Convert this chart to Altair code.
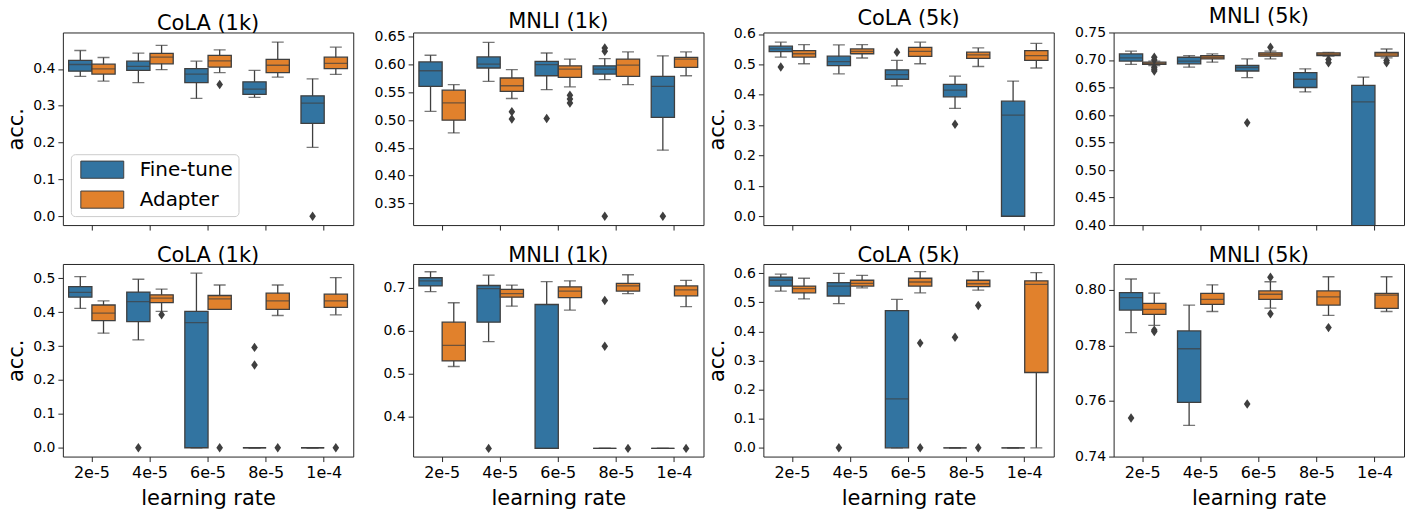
import altair as alt
import pandas as pd

FONT = "DejaVu Sans"
GRAY = "#3f3f3f"
FRAME = "#262626"

LRS = ["2e-5", "4e-5", "6e-5", "8e-5", "1e-4"]
SERIES = ["Fine-tune", "Adapter"]
COLORS = ["#3274a1", "#e1812c"]
TITLES = ["CoLA (1k)", "MNLI (1k)", "CoLA (5k)", "MNLI (5k)",
          "CoLA (1k)", "MNLI (1k)", "CoLA (5k)", "MNLI (5k)"]

# box statistics per learning rate: [lower whisker, q1, median, q3, upper whisker]
# ---- top row ----
P1_FT = [[0.380, 0.394, 0.412, 0.423, 0.450], [0.363, 0.396, 0.407, 0.421, 0.443],
         [0.320, 0.363, 0.386, 0.401, 0.421], [0.323, 0.331, 0.345, 0.365, 0.396],
         [0.187, 0.252, 0.307, 0.327, 0.373]]
P1_AD = [[0.367, 0.386, 0.400, 0.413, 0.431], [0.398, 0.414, 0.432, 0.442, 0.464],
         [0.390, 0.405, 0.422, 0.437, 0.452], [0.378, 0.390, 0.410, 0.426, 0.473],
         [0.385, 0.401, 0.415, 0.432, 0.459]]
P1_FT_OUT = [[], [], [], [], [0.0]]
P1_AD_OUT = [[], [], [0.358], [], []]

P2_FT = [[0.516, 0.561, 0.589, 0.605, 0.617], [0.570, 0.594, 0.601, 0.614, 0.640],
         [0.555, 0.580, 0.600, 0.606, 0.621], [0.573, 0.583, 0.592, 0.598, 0.611],
         [0.446, 0.505, 0.561, 0.579, 0.616]]
P2_AD = [[0.477, 0.500, 0.531, 0.554, 0.564], [0.539, 0.552, 0.562, 0.576, 0.591],
         [0.560, 0.577, 0.592, 0.598, 0.610], [0.564, 0.579, 0.599, 0.610, 0.623],
         [0.580, 0.595, 0.610, 0.613, 0.623]]
P2_FT_OUT = [[], [], [0.503], [0.630, 0.624, 0.327], [0.327]]
P2_AD_OUT = [[], [0.515, 0.502], [0.545, 0.538, 0.531], [], []]

P3_FT = [[0.524, 0.542, 0.551, 0.560, 0.573], [0.469, 0.496, 0.509, 0.527, 0.564],
         [0.429, 0.451, 0.466, 0.482, 0.513], [0.355, 0.393, 0.415, 0.434, 0.461],
         [0.0, 0.0, 0.333, 0.379, 0.445]]
P3_AD = [[0.502, 0.524, 0.535, 0.545, 0.565], [0.521, 0.535, 0.543, 0.551, 0.565],
         [0.502, 0.526, 0.543, 0.556, 0.573], [0.493, 0.520, 0.531, 0.540, 0.554],
         [0.488, 0.513, 0.529, 0.545, 0.569]]
P3_FT_OUT = [[0.491], [], [0.540], [0.303], []]
P3_AD_OUT = [[], [], [], [], []]

P4_FT = [[0.692, 0.698, 0.704, 0.711, 0.716], [0.687, 0.693, 0.698, 0.705, 0.708],
         [0.668, 0.680, 0.686, 0.690, 0.702], [0.642, 0.650, 0.665, 0.677, 0.684],
         [0.330, 0.330, 0.624, 0.654, 0.669]]
P4_AD = [[0.690, 0.692, 0.694, 0.696, 0.698], [0.696, 0.702, 0.705, 0.708, 0.711],
         [0.702, 0.707, 0.710, 0.713, 0.716], [0.707, 0.708, 0.710, 0.713, 0.714],
         [0.704, 0.707, 0.711, 0.714, 0.720]]
P4_FT_OUT = [[], [], [0.586], [], []]
P4_AD_OUT = [[0.705, 0.700, 0.687, 0.683, 0.680], [], [0.723], [0.701, 0.695], [0.699, 0.695]]

# ---- bottom row ----
P5_FT = [[0.411, 0.444, 0.458, 0.475, 0.505], [0.318, 0.372, 0.431, 0.459, 0.497],
         [0.0, 0.0, 0.369, 0.402, 0.515], [0.0, 0.0, 0.0, 0.0, 0.0],
         [0.0, 0.0, 0.0, 0.0, 0.0]]
P5_AD = [[0.338, 0.375, 0.397, 0.421, 0.433], [0.402, 0.428, 0.441, 0.451, 0.468],
         [0.408, 0.408, 0.439, 0.449, 0.480], [0.390, 0.408, 0.433, 0.456, 0.480],
         [0.392, 0.414, 0.433, 0.453, 0.502]]
P5_FT_OUT = [[], [0.0], [], [0.296, 0.244], []]
P5_AD_OUT = [[], [0.392], [0.0], [0.0], [0.0]]

P6_FT = [[0.691, 0.704, 0.716, 0.723, 0.737], [0.575, 0.620, 0.698, 0.705, 0.729],
         [0.327, 0.327, 0.327, 0.661, 0.714], [0.327, 0.327, 0.327, 0.327, 0.327],
         [0.327, 0.327, 0.327, 0.327, 0.327]]
P6_AD = [[0.517, 0.530, 0.566, 0.620, 0.665], [0.657, 0.678, 0.686, 0.696, 0.706],
         [0.648, 0.677, 0.692, 0.702, 0.716], [0.686, 0.692, 0.704, 0.710, 0.730],
         [0.656, 0.681, 0.695, 0.704, 0.717]]
P6_FT_OUT = [[], [0.327], [], [0.670, 0.564], []]
P6_AD_OUT = [[], [], [], [0.327], [0.327]]

P7_FT = [[0.539, 0.556, 0.576, 0.587, 0.597], [0.496, 0.522, 0.556, 0.568, 0.600],
         [0.0, 0.0, 0.168, 0.472, 0.510], [0.0, 0.0, 0.0, 0.0, 0.0],
         [0.0, 0.0, 0.0, 0.0, 0.0]]
P7_AD = [[0.512, 0.533, 0.547, 0.556, 0.583], [0.550, 0.556, 0.565, 0.576, 0.593],
         [0.533, 0.556, 0.570, 0.583, 0.606], [0.542, 0.554, 0.564, 0.576, 0.606],
         [0.0, 0.259, 0.562, 0.574, 0.602]]
P7_FT_OUT = [[], [0.0], [], [0.380], []]
P7_AD_OUT = [[], [], [0.360, 0.0], [0.489, 0.0], []]

P8_FT = [[0.7846, 0.7927, 0.7972, 0.7990, 0.8039], [0.7512, 0.7595, 0.7788, 0.7852, 0.7945],
         [0.330, 0.330, 0.330, 0.330, 0.330], [0.330, 0.330, 0.330, 0.330, 0.330],
         [0.330, 0.330, 0.330, 0.330, 0.330]]
P8_AD = [[0.7872, 0.7912, 0.7930, 0.7951, 0.7988], [0.7922, 0.7948, 0.7966, 0.7987, 0.8018],
         [0.7934, 0.7966, 0.7984, 0.7996, 0.8029], [0.7908, 0.7945, 0.7975, 0.7996, 0.8047],
         [0.7922, 0.7933, 0.7981, 0.7987, 0.8047]]
P8_FT_OUT = [[0.7539], [], [0.7589], [], []]
P8_AD_OUT = [[0.7855, 0.7850], [], [0.8045, 0.7914], [0.7864], []]

# y-axis ranges and tick values
DOMAINS = [[-0.024, 0.499], [0.311, 0.658], [-0.029, 0.605], [0.40, 0.75],
           [-0.026, 0.542], [0.308, 0.755], [-0.030, 0.632], [0.74, 0.8093]]
YTICKS = [[0.0, 0.1, 0.2, 0.3, 0.4],
          [0.35, 0.40, 0.45, 0.50, 0.55, 0.60, 0.65],
          [0.0, 0.1, 0.2, 0.3, 0.4, 0.5, 0.6],
          [0.40, 0.45, 0.50, 0.55, 0.60, 0.65, 0.70, 0.75],
          [0.0, 0.1, 0.2, 0.3, 0.4, 0.5],
          [0.4, 0.5, 0.6, 0.7],
          [0.0, 0.1, 0.2, 0.3, 0.4, 0.5, 0.6],
          [0.74, 0.76, 0.78, 0.80]]
YFMT = [".1f", ".2f", ".1f", ".2f", ".1f", ".1f", ".1f", ".2f"]

PANELS = [
    (P1_FT, P1_AD, P1_FT_OUT, P1_AD_OUT),
    (P2_FT, P2_AD, P2_FT_OUT, P2_AD_OUT),
    (P3_FT, P3_AD, P3_FT_OUT, P3_AD_OUT),
    (P4_FT, P4_AD, P4_FT_OUT, P4_AD_OUT),
    (P5_FT, P5_AD, P5_FT_OUT, P5_AD_OUT),
    (P6_FT, P6_AD, P6_FT_OUT, P6_AD_OUT),
    (P7_FT, P7_AD, P7_FT_OUT, P7_AD_OUT),
    (P8_FT, P8_AD, P8_FT_OUT, P8_AD_OUT),
]

W, H = 291, 193
BOXW = W / len(LRS) * 0.4
LW = 1.3


def frames(ft, ad, ft_out, ad_out):
    rows, outs = [], []
    for s, stats in zip(SERIES, (ft, ad)):
        for lr, (lo, q1, med, q3, hi) in zip(LRS, stats):
            rows.append(dict(lr=lr, series=s, lo=lo, q1=q1, med=med, q3=q3, hi=hi))
    for s, olist in zip(SERIES, (ft_out, ad_out)):
        for lr, vals in zip(LRS, olist):
            for v in vals:
                outs.append(dict(lr=lr, series=s, v=v))
    return pd.DataFrame(rows), pd.DataFrame(outs, columns=["lr", "series", "v"])


def panel(i):
    ft, ad, ft_out, ad_out = PANELS[i]
    stats, outs = frames(ft, ad, ft_out, ad_out)
    bottom = i >= 4
    xaxis = alt.Axis(labels=bottom, title="learning rate" if bottom else None,
                     labelAngle=0, ticks=True, domain=False, tickSize=5,
                     labelFontSize=16, labelPadding=3, titleFontSize=21, titlePadding=7)
    x = alt.X("lr:N", sort=LRS, axis=xaxis,
              scale=alt.Scale(type="band", domain=LRS, paddingInner=0, paddingOuter=0))
    xo = alt.XOffset("series:N", sort=SERIES,
                     scale=alt.Scale(domain=SERIES, paddingInner=0, paddingOuter=0.25))
    yaxis = alt.Axis(values=YTICKS[i], format=YFMT[i],
                     title="acc." if i % 2 == 0 else None,
                     domain=False, grid=False, tickSize=5, labelFontSize=14,
                     labelPadding=3, titleFontSize=21, titlePadding=6)
    ysc = alt.Scale(domain=DOMAINS[i], nice=False, zero=False)

    def Y(f):
        return alt.Y(f, type="quantitative", scale=ysc, axis=yaxis)

    base = alt.Chart(stats)
    whisk = base.mark_rule(color=GRAY, strokeWidth=LW, clip=True).encode(
        x=x, xOffset=xo, y=Y("lo"), y2="hi:Q")
    cap_lo = base.mark_tick(color=GRAY, size=12, thickness=LW, clip=True,
                            orient="horizontal").encode(x=x, xOffset=xo, y=Y("lo"))
    cap_hi = base.mark_tick(color=GRAY, size=12, thickness=LW, clip=True,
                            orient="horizontal").encode(x=x, xOffset=xo, y=Y("hi"))
    legend = None
    if i == 0:
        legend = alt.Legend(title=None, orient="none", legendX=8, legendY=122,
                            direction="vertical",
                            symbolType="M-4.3,-1.72H4.3V1.72H-4.3Z", symbolSize=100,
                            symbolOffset=16, symbolStrokeColor=GRAY, symbolStrokeWidth=1,
                            symbolOpacity=1,
                            labelFont=FONT, labelFontSize=20, labelColor="black",
                            labelOffset=27.5, fillColor="white", strokeColor="#cccccc",
                            cornerRadius=4, padding=5.5, rowPadding=8)
    box = base.mark_bar(stroke=GRAY, strokeWidth=LW, opacity=1, clip=True).encode(
        x=x, xOffset=xo, y=Y("q1"), y2="q3:Q",
        color=alt.Color("series:N", sort=SERIES,
                        scale=alt.Scale(domain=SERIES, range=COLORS), legend=legend))
    med = base.mark_tick(color=GRAY, size=BOXW, thickness=LW, clip=True,
                         orient="horizontal").encode(x=x, xOffset=xo, y=Y("med"))
    pts = alt.Chart(outs).mark_point(shape="M0,-1L0.7,0L0,1L-0.7,0Z", filled=True,
                                     size=90, color=GRAY, opacity=1, clip=True).encode(
        x=x, xOffset=xo, y=Y("v"))
    return alt.layer(whisk, cap_lo, cap_hi, box, med, pts).properties(
        width=W, height=H, title=TITLES[i])


chart = alt.concat(*[panel(i) for i in range(8)], columns=4,
                   spacing={"row": 39, "column": 60}, bounds="flush")
chart = chart.resolve_scale(x="independent", y="independent", color="shared")
chart = chart.resolve_legend(color="independent")
chart = chart.properties(padding={"left": 5, "top": 5, "right": 0, "bottom": 0},
                         background="white")
chart = chart.configure_view(stroke=FRAME, strokeWidth=1).configure_axis(
    labelFont=FONT, titleFont=FONT, labelColor="black", titleColor="black",
    tickColor=FRAME, tickWidth=1, titleFontWeight="normal"
).configure_title(font=FONT, fontSize=21, fontWeight="normal", color="black",
                  anchor="middle", offset=-2)

chart.save("out.html", embed_options={"renderer": "svg", "actions": False})
